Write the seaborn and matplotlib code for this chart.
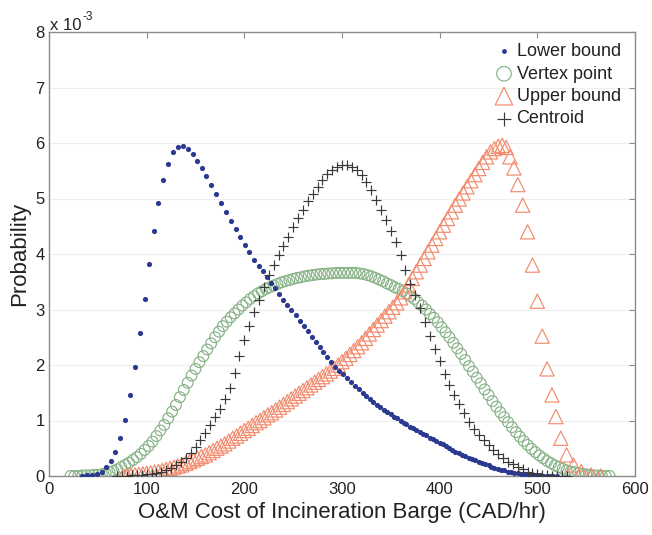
import matplotlib
matplotlib.use('Agg')
import matplotlib.pyplot as plt
import pandas as pd
import seaborn as sns

# Series (y in units of 1e-3)
lower_x = [34, 39, 44, 49, 54, 58, 63, 68, 73, 78, 83, 88, 93, 98, 102, 107, 112, 117, 122, 127,
           132, 137, 142, 147, 152, 157, 161, 166, 171, 176, 181, 186, 191, 196, 201, 205, 210, 215, 219, 223,
           227, 231, 236, 240, 244, 248, 253, 257, 261, 265, 269, 273, 277, 281, 285, 289, 293, 297, 301, 305,
           309, 313, 317, 321, 325, 329, 332, 336, 339, 343, 346, 350, 353, 356, 360, 363, 366, 370, 373, 376,
           380, 383, 386, 390, 393, 396, 400, 403, 406, 410, 413, 416, 420, 423, 426, 430, 433, 436, 440, 443,
           446, 450, 453, 456, 460, 463, 466, 470, 473, 476, 480, 483, 486, 490, 493, 496, 500, 503, 506, 510,
           513, 516, 520]
lower_y = [0.00, 0.01, 0.01, 0.03, 0.08, 0.16, 0.27, 0.44, 0.68, 1.01, 1.46, 1.97, 2.57, 3.19, 3.82, 4.42, 4.92, 5.33, 5.63, 5.83,
           5.92, 5.95, 5.90, 5.80, 5.68, 5.55, 5.41, 5.24, 5.08, 4.92, 4.76, 4.60, 4.45, 4.31, 4.16, 4.03, 3.90, 3.78, 3.69, 3.59,
           3.48, 3.38, 3.28, 3.17, 3.08, 2.99, 2.90, 2.80, 2.70, 2.61, 2.51, 2.42, 2.33, 2.24, 2.15, 2.06, 1.97, 1.90, 1.83, 1.76,
           1.69, 1.62, 1.56, 1.50, 1.44, 1.38, 1.33, 1.28, 1.24, 1.19, 1.15, 1.11, 1.07, 1.04, 1.00, 0.96, 0.93, 0.89, 0.86, 0.83,
           0.79, 0.76, 0.73, 0.69, 0.66, 0.63, 0.60, 0.57, 0.54, 0.50, 0.47, 0.44, 0.41, 0.38, 0.36, 0.33, 0.30, 0.28, 0.25, 0.23,
           0.21, 0.19, 0.17, 0.15, 0.13, 0.11, 0.10, 0.08, 0.07, 0.06, 0.05, 0.04, 0.03, 0.02, 0.02, 0.01, 0.01, 0.01, 0.00, 0.00,
           0.00, 0.00, 0.00]

vertex_x = [22, 26, 30, 34, 38, 42, 46, 50, 54, 58, 62, 66, 70, 74, 78, 82, 86, 90, 94, 98,
            102, 106, 110, 114, 118, 122, 126, 130, 134, 138, 142, 146, 150, 154, 158, 162, 166, 170, 174, 178,
            182, 186, 190, 194, 198, 202, 206, 210, 214, 218, 222, 226, 230, 234, 238, 242, 246, 250, 254, 258,
            262, 266, 270, 274, 278, 282, 286, 290, 294, 298, 302, 306, 310, 314, 318, 322, 326, 330, 334, 338,
            342, 346, 350, 354, 358, 362, 366, 370, 374, 378, 382, 386, 390, 394, 398, 402, 406, 410, 414, 418,
            422, 426, 430, 434, 438, 442, 446, 450, 454, 458, 462, 466, 470, 474, 478, 482, 486, 490, 494, 498,
            502, 506, 510, 514, 518, 522, 526, 530, 534, 538, 542, 546, 550, 554, 558, 562, 566, 570, 574]
vertex_y = [0.00, 0.00, 0.00, 0.01, 0.01, 0.01, 0.02, 0.02, 0.03, 0.05, 0.07, 0.09, 0.12, 0.16, 0.20, 0.24, 0.29, 0.34, 0.40, 0.47,
            0.54, 0.62, 0.72, 0.82, 0.92, 1.04, 1.16, 1.28, 1.42, 1.55, 1.68, 1.81, 1.93, 2.05, 2.16, 2.28, 2.39, 2.50, 2.60, 2.70,
            2.78, 2.86, 2.93, 3.00, 3.07, 3.13, 3.19, 3.24, 3.29, 3.33, 3.37, 3.40, 3.43, 3.46, 3.49, 3.51, 3.53, 3.55, 3.57, 3.58,
            3.60, 3.61, 3.62, 3.63, 3.64, 3.64, 3.65, 3.65, 3.66, 3.66, 3.66, 3.66, 3.66, 3.66, 3.65, 3.64, 3.62, 3.60, 3.57, 3.54,
            3.51, 3.47, 3.44, 3.40, 3.37, 3.33, 3.29, 3.24, 3.19, 3.13, 3.07, 3.00, 2.92, 2.85, 2.77, 2.68, 2.59, 2.50, 2.40, 2.30,
            2.20, 2.09, 1.98, 1.88, 1.77, 1.67, 1.56, 1.46, 1.35, 1.25, 1.15, 1.06, 0.97, 0.88, 0.79, 0.71, 0.63, 0.56, 0.49, 0.43,
            0.37, 0.32, 0.27, 0.23, 0.19, 0.16, 0.13, 0.10, 0.08, 0.07, 0.05, 0.04, 0.03, 0.02, 0.01, 0.01, 0.00, 0.00, 0.00]

upper_x = [76, 80, 84, 88, 92, 96, 100, 104, 108, 112, 116, 120, 124, 128, 132, 136, 140, 144, 148, 152,
           156, 160, 164, 168, 172, 176, 180, 184, 188, 192, 196, 200, 204, 208, 212, 216, 220, 224, 228, 232,
           236, 240, 244, 248, 252, 256, 260, 264, 268, 272, 276, 280, 284, 288, 292, 296, 300, 304, 308, 312,
           316, 320, 324, 328, 332, 336, 340, 344, 348, 352, 356, 360, 364, 368, 372, 376, 380, 384, 388, 392,
           396, 400, 404, 408, 412, 416, 420, 424, 428, 432, 436, 440, 444, 448, 452, 456, 460, 464, 468, 472,
           476, 480, 485, 490, 495, 500, 505, 510, 515, 519, 524, 530, 537, 545, 555, 565]
upper_y = [0.00, 0.01, 0.01, 0.02, 0.03, 0.04, 0.05, 0.06, 0.07, 0.08, 0.10, 0.12, 0.14, 0.16, 0.18, 0.20, 0.23, 0.26, 0.29, 0.32,
           0.35, 0.38, 0.42, 0.46, 0.50, 0.54, 0.58, 0.63, 0.68, 0.72, 0.77, 0.82, 0.86, 0.91, 0.96, 1.00, 1.05, 1.10, 1.14, 1.19,
           1.24, 1.29, 1.34, 1.39, 1.44, 1.49, 1.54, 1.59, 1.64, 1.69, 1.74, 1.79, 1.84, 1.89, 1.94, 2.00, 2.06, 2.12, 2.19, 2.26,
           2.33, 2.40, 2.48, 2.56, 2.64, 2.72, 2.80, 2.88, 2.96, 3.04, 3.12, 3.21, 3.32, 3.44, 3.56, 3.68, 3.80, 3.92, 4.04, 4.16,
           4.28, 4.40, 4.52, 4.64, 4.76, 4.88, 4.99, 5.10, 5.21, 5.32, 5.43, 5.54, 5.65, 5.75, 5.84, 5.90, 5.94, 5.96, 5.92, 5.75,
           5.55, 5.25, 4.88, 4.40, 3.80, 3.15, 2.52, 1.93, 1.46, 1.07, 0.68, 0.38, 0.20, 0.08, 0.02, 0.00]

centroid_x = [70, 75, 80, 85, 90, 95, 100, 105, 110, 115, 120, 125, 130, 135, 140, 145, 150, 155, 160, 165,
              170, 175, 180, 185, 190, 195, 200, 205, 210, 215, 220, 225, 230, 235, 240, 245, 250, 255, 260, 265,
              270, 275, 280, 285, 290, 295, 300, 305, 310, 315, 320, 325, 330, 335, 340, 345, 350, 355, 360, 365,
              370, 375, 380, 385, 390, 395, 400, 405, 410, 415, 420, 425, 430, 435, 440, 445, 450, 455, 460, 465,
              470, 475, 480, 485, 490, 495, 500, 505, 510, 515, 520, 525, 530]
centroid_y = [0.00, 0.00, 0.00, 0.01, 0.01, 0.02, 0.03, 0.04, 0.05, 0.07, 0.10, 0.14, 0.19, 0.25, 0.32, 0.41, 0.52, 0.64, 0.77, 0.91,
              1.06, 1.20, 1.38, 1.58, 1.85, 2.16, 2.45, 2.71, 2.95, 3.18, 3.40, 3.62, 3.80, 3.98, 4.14, 4.31, 4.49, 4.65, 4.80, 4.95,
              5.09, 5.21, 5.34, 5.44, 5.52, 5.57, 5.60, 5.60, 5.57, 5.51, 5.42, 5.30, 5.15, 4.98, 4.80, 4.62, 4.42, 4.21, 3.98, 3.72,
              3.46, 3.27, 3.02, 2.77, 2.52, 2.29, 2.07, 1.84, 1.64, 1.46, 1.29, 1.13, 0.97, 0.84, 0.73, 0.64, 0.55, 0.47, 0.39, 0.33,
              0.26, 0.21, 0.16, 0.12, 0.08, 0.05, 0.03, 0.02, 0.01, 0.00, 0.00, 0.00, 0.00]

x_ticks = [0, 100, 200, 300, 400, 500, 600]
y_ticks = [0, 1, 2, 3, 4, 5, 6, 7, 8]

sns.set_style('white')
plt.rcParams['font.family'] = ['Liberation Sans', 'DejaVu Sans']
TXT = '#222222'

fig = plt.figure(figsize=(6.52, 5.35), dpi=100)
ax = fig.add_axes([49 / 652, 59 / 535, 586 / 652, 444 / 535])

lower = pd.DataFrame({'x': lower_x, 'y': lower_y})
vertex = pd.DataFrame({'x': vertex_x, 'y': vertex_y})
upper = pd.DataFrame({'x': upper_x, 'y': upper_y})
centroid = pd.DataFrame({'x': centroid_x, 'y': centroid_y})

c_low, c_ver, c_up, c_cen = '#2b3990', '#86b286', '#f28a6c', '#3a3a3a'

sns.scatterplot(data=lower, x='x', y='y', ax=ax, marker='o', s=14, color=c_low,
                linewidth=0, label='Lower bound', zorder=3)
sns.scatterplot(data=vertex, x='x', y='y', ax=ax, marker='o', s=60, color=c_ver,
                facecolor='none', edgecolor=c_ver, linewidth=0.85, label='Vertex point', zorder=2)
sns.scatterplot(data=upper, x='x', y='y', ax=ax, marker='^', s=105, color=c_up,
                facecolor='none', edgecolor=c_up, linewidth=0.85, label='Upper bound', zorder=2)
sns.scatterplot(data=centroid, x='x', y='y', ax=ax, marker='+', s=60, color=c_cen,
                linewidth=0.85, label='Centroid', zorder=4)

ax.set_xlim(0, 600)
ax.set_ylim(0, 8)
ax.set_xticks(x_ticks)
ax.set_yticks(y_ticks)
ax.yaxis.grid(True, color='#eeeeee', linewidth=0.8)
ax.set_axisbelow(True)
for sp in ax.spines.values():
    sp.set_color('#8c8c8c')
    sp.set_linewidth(1.0)
ax.tick_params(direction='in', length=4, width=0.8, color='#8c8c8c', top=True, right=True,
               labelsize=12, labelcolor=TXT)
ax.tick_params(axis='x', pad=4)
ax.tick_params(axis='y', pad=3)

ax.set_xlabel('O&M Cost of Incineration Barge (CAD/hr)', fontsize=16, color=TXT, labelpad=4)
ax.set_ylabel('Probability', fontsize=16, color=TXT, labelpad=4)

# exponent label like MATLAB
fig.text(50 / 652, 1 - 30 / 535, 'x 10', fontsize=12, color=TXT, ha='left', va='baseline')
fig.text(83 / 652, 1 - 20 / 535, '-3', fontsize=8.5, color=TXT, ha='left', va='baseline')

leg = ax.legend(loc='upper left', bbox_to_anchor=(0.761, 0.975), frameon=False, fontsize=13,
                handlelength=1.0, handletextpad=0.2, labelspacing=0.3, borderpad=0,
                borderaxespad=0, scatterpoints=1)
for t in leg.get_texts():
    t.set_color(TXT)
for h, sz in zip(leg.legend_handles, [12, 110, 160, 110]):
    h.set_sizes([sz])

fig.savefig('out.png', dpi=100)
